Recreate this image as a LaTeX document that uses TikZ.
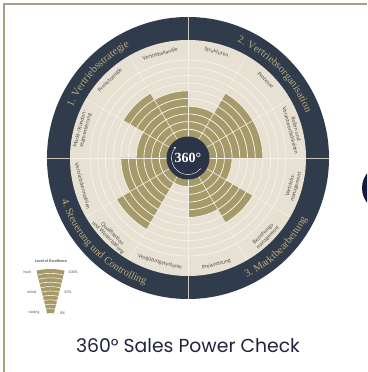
\documentclass[tikz,border=0pt]{standalone}
\usepackage{fontspec}
\setmainfont{Liberation Serif}
\newfontfamily\labfont{Lato}
\newfontfamily\capfont{Poppins}
\newfontfamily\ttlfont{Liberation Serif}
\usetikzlibrary{decorations.text,arrows.meta}
\definecolor{navy}{HTML}{303B4C}
\definecolor{beige}{HTML}{E7E1D3}
\definecolor{khaki}{HTML}{A69A6A}
\definecolor{cream}{HTML}{F5F1E6}
\definecolor{titlec}{HTML}{B8AC7C}
\definecolor{labc}{HTML}{4D4D4D}
\definecolor{centerc}{HTML}{2A3446}
\definecolor{framec}{HTML}{A99F86}
\definecolor{capc}{HTML}{20233A}
\definecolor{darkc}{HTML}{17193A}
\definecolor{qline}{HTML}{C9C4B8}
\begin{document}
\begin{tikzpicture}[x=1pt,y=1pt,
  seglabel/.style={font=\labfont\fontsize{5.3}{5.9}\selectfont, text=labc, align=center, inner sep=0pt},
  leglabel/.style={font=\labfont\fontsize{3.6}{4}\selectfont, text=labc, inner sep=0pt},
  ringline/.style={draw=cream, line width=0.8pt},
  radline/.style={draw=cream, line width=0.55pt},
  quadtitle/.style={decorate, decoration={text along path, text align=center, text color=titlec, text={|\ttlfont\fontsize{10.5}{12}\selectfont|#1}}}]
\useasboundingbox (0,0) rectangle (367,372);
\clip (0,0) rectangle (367,372);
\fill[white] (0,0) rectangle (367,372);
% frame
\draw[framec, line width=2pt] (4.3,0) -- (4.3,367.6) -- (367,367.6);
% partial circle at right edge
\fill[darkc] (386,184) circle[radius=24];
\begin{scope}[shift={(188,214)}]
  \fill[navy] (0,0) circle[radius=141];
  \fill[beige] (0,0) circle[radius=118];
  % level sectors
  \foreach \a/\k in {0/7,30/7,60/4,90/6,120/7,150/4,180/6,210/8,240/1,270/5,300/7,330/3}{
    \fill[khaki] (0,0) -- (\a:{21+7.7*\k}) arc[start angle=\a, end angle=\a+30, radius={21+7.7*\k}] -- cycle;
  }
  \foreach \k in {1,...,10}{
    \draw[ringline] (0,0) circle[radius={21+7.7*\k}];
  }
  \foreach \a in {0,30,...,330}{
    \draw[radline] (\a:21) -- (\a:118);
  }
  \foreach \a in {0,90,180,270}{
    \draw[qline, line width=0.7pt] (\a:118) -- (\a:141);
  }
  % centre
  \fill[centerc] (0,0) circle[radius=21.5];
  \draw[white, line width=0.4pt, -{Stealth[length=2.2pt,width=2.2pt]}] (-40:16.5) arc[start angle=-40, end angle=-222, radius=16.5];
  \node[font=\ttlfont\bfseries\fontsize{14}{14}\selectfont, text=white, inner sep=0pt] (c360) at (0,0) {360°};
  % quadrant titles
  \path[quadtitle={1. Vertriebsstrategie}] (175:126) arc[start angle=175, end angle=99, radius=126];
  \path[quadtitle={2. Vertriebsorganisation}] (84:126) arc[start angle=84, end angle=4, radius=126];
  \path[quadtitle={3. Marktbearbeitung}] (-85:133.5) arc[start angle=-85, end angle=-6, radius=133.5];
  \path[quadtitle={4. Steuerung und Controlling}] (186:133.5) arc[start angle=186, end angle=264, radius=133.5];
  % segment labels
  \node[seglabel, rotate=15] (s1) at (105:108) {Vertriebskanäle};
  \node[seglabel, rotate=45] (s2) at (135:110) {Preisstrategie};
  \node[seglabel, rotate=75] (s3) at (165:109) {Markt-/Kunden-\\segmentierung};
  \node[seglabel, rotate=-15] (s4) at (75:110) {Strukturen};
  \node[seglabel, rotate=-45] (s5) at (45:110) {Prozesse};
  \node[seglabel, rotate=-75] (s6) at (15:109) {Rollen und\\Verantwortlichkeiten};
  \node[seglabel, rotate=75] (s7) at (-15:109) {Vertriebs-\\management};
  \node[seglabel, rotate=45] (s8) at (-45:110) {Beziehungs-\\management};
  \node[seglabel, rotate=15] (s9) at (-75:110) {Preissetzung};
  \node[seglabel, rotate=-15] (s10) at (-105:108) {Vergütungssysteme};
  \node[seglabel, rotate=-45] (s11) at (-135:110) {Qualifikation\\und Weiterbildung};
  \node[seglabel, rotate=-75] (s12) at (-165:109) {Vertriebskennzahlen};
\end{scope}
% legend
\begin{scope}[shift={(50.5,45)}]
  \fill[khaki] (76:14) arc[start angle=76, end angle=104, radius=14] -- (104:58) arc[start angle=104, end angle=76, radius=58] -- cycle;
  \foreach \k in {1,...,9}{
    \draw[cream, line width=0.6pt] (76:{14+4.4*\k}) arc[start angle=76, end angle=104, radius={14+4.4*\k}];
  }
\end{scope}
\node[font=\labfont\bfseries\fontsize{3.8}{4}\selectfont, text=labc, inner sep=0pt] (legt) at (51,111) {Level of Excellence};
\node[leglabel] (lh) at (27.5,100) {hoch};
\node[leglabel] (lh2) at (73,100) {100\%};
\node[leglabel] (lm) at (32,80) {mittel};
\node[leglabel] (lm2) at (68,80) {50\%};
\node[leglabel] (ln) at (34,59) {niedrig};
\node[leglabel] (ln2) at (62.5,59) {0\%};
% caption
\node[font=\capfont\fontsize{18.8}{20}\selectfont, text=capc, inner sep=0pt] (title) at (188,26.5) {360° Sales Power Check};
\end{tikzpicture}
\end{document}
